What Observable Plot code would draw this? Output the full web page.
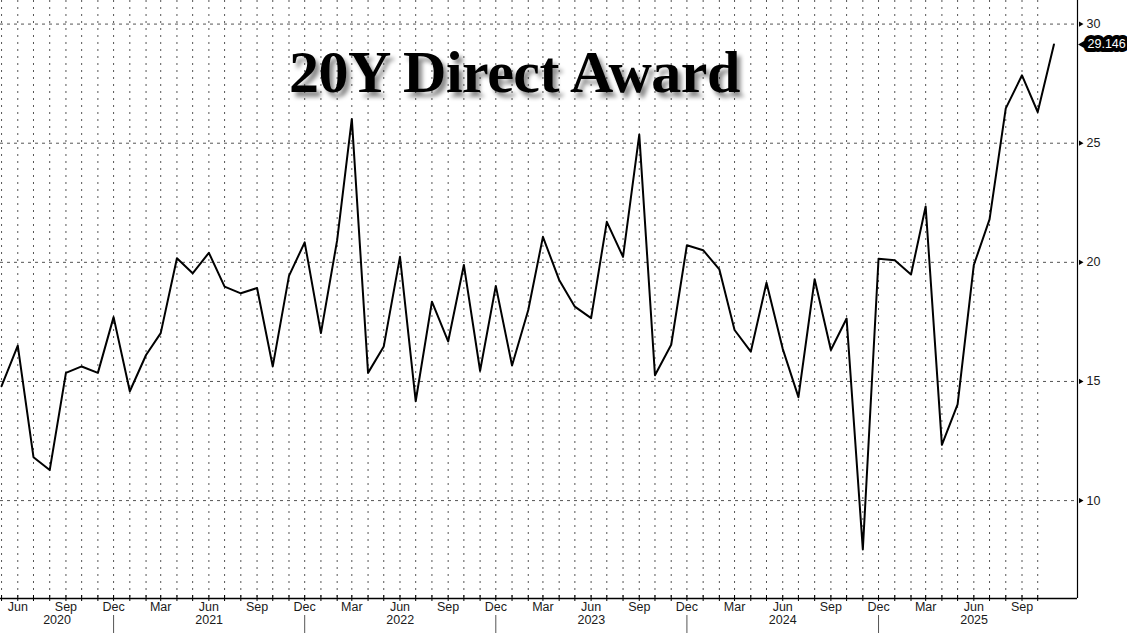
<!DOCTYPE html>
<html><head><meta charset="utf-8">
<script src="https://cdn.jsdelivr.net/npm/d3@7"></script>
<script src="https://cdn.jsdelivr.net/npm/@observablehq/plot@0.6"></script>
<style>
html,body{margin:0;padding:0;background:#fff;}
#wrap{position:relative;width:1127px;height:633px;overflow:hidden;background:#fff;}
#title{position:absolute;left:289px;top:42px;font-family:"Liberation Serif","Times New Roman",serif;font-weight:bold;font-size:60px;line-height:60px;letter-spacing:-0.5px;color:#000;text-shadow:4px 5px 4px rgba(0,0,0,0.45);white-space:nowrap;pointer-events:none;}
</style></head><body>
<div id="wrap"><div id="title"></div></div>
<script>
const title = "20Y Direct Award";
const firstMonth = "2020-05-01";
// monthly 20Y auction direct award (%), May 2020 .. Nov 2025
const directAward = [
  14.80, 16.50, 11.82, 11.28, 15.36, 15.63, 15.36, 17.70,
  14.59, 16.11, 17.03, 20.17, 19.54, 20.40, 18.98, 18.70, 18.92, 15.63, 19.43, 20.84,
  17.03, 20.93, 26.02, 15.36, 16.47, 20.23, 14.17, 18.35, 16.68, 19.89, 15.45, 19.01,
  15.67, 18.00, 21.07, 19.26, 18.14, 17.66, 21.70, 20.23, 25.36, 15.26, 16.54, 20.72,
  20.51, 19.70, 17.16, 16.25, 19.14, 16.37, 14.34, 19.29, 16.32, 17.64, 7.95, 20.15,
  20.09, 19.49, 22.34, 12.34, 14.04, 19.89, 21.80, 26.46, 27.85, 26.31, 29.146
];
const yTicks = [10, 15, 20, 25, 30];
const years = [2020, 2021, 2022, 2023, 2024, 2025];
const lastLabel = "29.146";

const xDomain = [new Date("2020-04-29"), new Date("2025-12-16")];
const yDomain = [5.89, 30.99];

document.getElementById("title").textContent = title;

const start = new Date(firstMonth);
const data = directAward.map((v, i) => ({date: d3.utcMonth.offset(start, i), value: v}));
const last = data[data.length - 1];
const gridMonths = data.slice(0, data.length - 1).map(d => d.date);
const quarterTicks = data.map(d => d.date).filter(d => d.getUTCMonth() % 3 === 2);
const yearSeps = years.slice(0, -1).map(y => new Date(Date.UTC(y, 11, 1)));
const yearLabels = years.map(y => {
  const a = Math.max(+xDomain[0], Date.UTC(y - 1, 11, 1));
  const b = Math.min(+xDomain[1], Date.UTC(y, 11, 1));
  return {x: new Date((a + b) / 2), year: String(y)};
});

const fs = 12.5;
const chart = Plot.plot({
  width: 1127, height: 633,
  marginLeft: 0, marginRight: 50, marginTop: 0, marginBottom: 35,
  x: {type: "utc", domain: xDomain, label: null},
  y: {domain: yDomain, label: null},
  style: {fontFamily: "Liberation Sans, Arial, sans-serif", fontSize: fs + "px", background: "white", color: "#1a1a1a", overflow: "visible"},
  marks: [
    Plot.ruleX(gridMonths, {stroke: "#555", strokeDasharray: "2,5", strokeWidth: 1}),
    Plot.ruleY(yTicks, {stroke: "#555", strokeDasharray: "3,4", strokeWidth: 1}),
    Plot.lineY(data, {x: "date", y: "value", stroke: "black", strokeWidth: 2}),
    Plot.ruleY([yDomain[0]], {stroke: "black", strokeWidth: 1.5}),
    Plot.ruleX([xDomain[1]], {stroke: "black", strokeWidth: 1.2}),
    Plot.ruleX(gridMonths, {y1: yDomain[0], y2: yDomain[0], insetTop: -3, insetBottom: -3, stroke: "black"}),
    Plot.ruleX(yearSeps, {y1: yDomain[0], y2: yDomain[0], insetTop: 17, insetBottom: -35, stroke: "#555"}),
    Plot.axisX({ticks: quarterTicks, tickFormat: d3.utcFormat("%b"), tickSize: 0, tickPadding: 4, fontSize: fs, label: null}),
    Plot.text(yearLabels, {x: "x", text: "year", frameAnchor: "bottom", dy: 25, fontSize: fs}),
    Plot.axisY({anchor: "right", ticks: yTicks, tickSize: 0, tickPadding: 9, fontSize: fs, label: null}),
    Plot.dot(yTicks, {x: () => xDomain[1], y: d => d, symbol: "triangle2", rotate: 90, r: 2.5, fill: "black", dx: 3}),
    Plot.dot([last], {x: () => xDomain[1], y: "value", symbol: "triangle2", rotate: -90, r: 4.5, fill: "black", dx: 6}),
    Plot.text([last], {x: () => xDomain[1], y: "value", text: () => lastLabel, textAnchor: "start", dx: 10,
      fill: "white", stroke: "black", strokeWidth: 8, strokeLinejoin: "round", paintOrder: "stroke", fontSize: fs})
  ]
});
document.getElementById("wrap").prepend(chart);
</script>
</body></html>
